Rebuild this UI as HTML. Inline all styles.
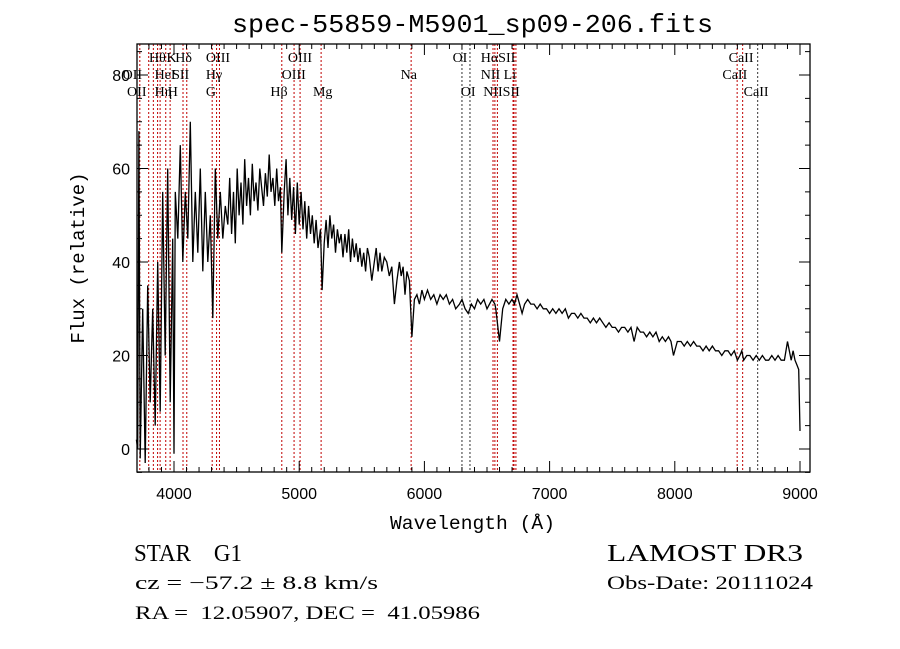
<!DOCTYPE html>
<html><head><meta charset="utf-8"><style>
html,body{margin:0;padding:0;background:#fff;width:900px;height:649px;overflow:hidden}
svg{display:block}
</style></head><body>
<svg id="chart" width="900" height="649" viewBox="0 0 900 649" xmlns="http://www.w3.org/2000/svg">
<text x="232" y="32" textLength="481" lengthAdjust="spacingAndGlyphs" font-family="Liberation Mono, monospace" font-size="26">spec-55859-M5901_sp09-206.fits</text>
<g id="lines"></g>
<g id="labels"></g>
<path id="spec" fill="none" stroke="#000" stroke-width="1.3"/>
<g id="axes"></g>
<text x="390" y="529" textLength="165" lengthAdjust="spacingAndGlyphs" font-family="Liberation Mono, monospace" font-size="19">Wavelength (Å)</text>
<text x="0" y="0" transform="translate(84,258) rotate(-90)" text-anchor="middle" font-family="Liberation Mono, monospace" font-size="19">Flux (relative)</text>
<text x="134" y="561" textLength="108" lengthAdjust="spacingAndGlyphs" font-family="Liberation Serif, serif" font-size="24" xml:space="preserve">STAR    G1</text>
<text x="607" y="561" textLength="196" lengthAdjust="spacingAndGlyphs" font-family="Liberation Serif, serif" font-size="24">LAMOST DR3</text>
<text x="135" y="589" textLength="243" lengthAdjust="spacingAndGlyphs" font-family="Liberation Serif, serif" font-size="19">cz = −57.2 ± 8.8 km/s</text>
<text x="607" y="589" textLength="206" lengthAdjust="spacingAndGlyphs" font-family="Liberation Serif, serif" font-size="19">Obs-Date: 20111024</text>
<text x="135" y="619" textLength="345" lengthAdjust="spacingAndGlyphs" font-family="Liberation Serif, serif" font-size="19" xml:space="preserve">RA =  12.05907, DEC =  41.05986</text>
</svg>
<script>
const wave=[3700,3710,3720,3730,3750,3770,3790,3810,3830,3850,3870,3890,3910,3930,3950,3970,3990,4000,4010,4030,4050,4070,4090,4110,4130,4150,4170,4190,4210,4230,4250,4270,4290,4310,4330,4350,4370,4390,4410,4430,4445,4460,4475,4490,4505,4520,4535,4550,4565,4580,4595,4610,4625,4640,4655,4670,4685,4700,4715,4730,4745,4760,4775,4790,4805,4820,4835,4850,4861,4880,4895,4910,4925,4940,4955,4970,4985,5000,5015,5030,5045,5060,5075,5090,5105,5120,5135,5150,5170,5183,5200,5215,5230,5245,5260,5275,5290,5305,5320,5335,5350,5365,5380,5395,5410,5425,5440,5455,5470,5485,5500,5515,5530,5545,5560,5580,5600,5615,5630,5645,5660,5680,5700,5720,5740,5760,5780,5800,5815,5830,5845,5860,5880,5895,5900,5920,5940,5960,5980,6000,6025,6050,6075,6100,6125,6150,6175,6200,6225,6250,6280,6300,6325,6350,6375,6400,6425,6450,6475,6500,6540,6563,6570,6600,6625,6650,6675,6700,6720,6740,6760,6780,6800,6825,6850,6875,6900,6925,6950,6975,7000,7025,7050,7075,7100,7125,7150,7175,7200,7225,7250,7275,7300,7325,7350,7375,7400,7425,7450,7475,7500,7525,7550,7575,7600,7625,7650,7675,7700,7725,7750,7775,7800,7825,7850,7875,7900,7925,7950,7970,7990,8020,8050,8075,8100,8125,8150,8175,8200,8225,8250,8275,8300,8325,8350,8375,8400,8425,8450,8475,8500,8520,8535,8550,8575,8600,8625,8650,8675,8700,8725,8750,8775,8800,8825,8850,8875,8900,8930,8945,8960,8975,8990,9000,9005];
const flux=[2,0,68,-2,30,-3,35,10,30,5,40,8,55,20,60,10,45,-1,55,45,65,40,55,45,70,40,55,42,60,38,55,40,50,28,60,45,55,45,52,48,58,46,55,44,60,50,57,48,62,52,58,50,61,53,57,51,60,56,52,59,54,63,55,58,52,60,53,56,42,55,62,50,58,49,56,46,57,48,55,47,53,45,52,46,50,44,49,43,47,34,44,49,43,50,45,48,42,47,44,46,41,46,42,47,40,45,41,44,40,43,39,42,38,43,41,36,40,43,38,42,38,41,40,37,39,31,36,40,37,39,33,38,36,27,24,32,33,31,34,32,34,32,33,31,33,32,33,31,32,30,31,32,30,29,31,30,32,31,32,30,32,31,30,23,30,32,31,32,31,33,31,29,31,32,31,31,30,31,30,30,29,30,29,30,29,30,28,29,29,28,29,28,28,27,28,27,28,27,26,27,26,26,25,26,26,25,26,23,26,25,25,24,25,24,25,23,24,23,24,23,20,23,23,22,23,22,23,22,22,21,22,21,22,21,21,20,21,21,20,21,19,20,21,19,20,20,19,20,19,20,19,19,20,19,20,19,19,23,19,21,19,18,17,4,4];
const lineWave=[3727,3798,3835,3869,3889,3934,3969,4072,4102,4305,4340,4363,4861,4959,5007,5175,5894,6300,6364,6548,6563,6583,6708,6716,6731,8498,8542,8662];
const lineBlack=[0,0,0,0,0,0,0,0,0,0,0,0,0,0,0,0,0,1,1,0,0,0,0,0,0,0,0,1];
const labelText=["Hθ","K","Hδ","OIII","OIII","OII","HeI","SII","Hγ","OIII","OII","Hη","H","G","Hβ","Mg","OI","HαSII","CaII","Na","NII Li","CaII","OI","NIISII","CaII"];
const labelWave=[3800,3940,4010,4255,4910,3590,3845,3985,4255,4860,3625,3845,3950,4255,4770,5110,6225,6450,8430,5810,6450,8380,6290,6470,8550];
const labelRow=[0,0,0,0,0,1,1,1,1,1,2,2,2,2,2,2,0,0,0,1,1,1,2,2,2];
const xTicks=[4000,5000,6000,7000,8000,9000];
const yTicks=[0,20,40,60,80];
const L=137,R=810,T=44,B=472;
const X=w=>174+(w-4000)*0.1252;
const Y=f=>449-f*4.675;
const NS="http://www.w3.org/2000/svg";
function mk(t,a,p){const e=document.createElementNS(NS,t);for(const k in a)e.setAttribute(k,a[k]);p.appendChild(e);return e;}
const lg=document.getElementById('lines');
lineWave.forEach((w,i)=>{const l=mk('line',{x1:X(w),x2:X(w),y1:T,y2:B,stroke:lineBlack[i]?'#333':'#c00000','stroke-width':1,'stroke-dasharray':'2,2'},lg);

});
const lb=document.getElementById('labels');
labelText.forEach((s,i)=>{const t=mk('text',{x:X(labelWave[i]),y:62+labelRow[i]*17,'font-family':'Liberation Serif, serif','font-size':14},lb);t.textContent=s;

});
let d='';wave.forEach((w,i)=>{const y=Math.max(T,Math.min(B,Y(flux[i])));d+=(i?'L':'M')+X(w).toFixed(1)+','+y.toFixed(1);});
document.getElementById('spec').setAttribute('d',d);
const ax=document.getElementById('axes');
mk('rect',{x:L,y:T,width:R-L,height:B-T,fill:'none',stroke:'#000','stroke-width':1.3},ax);
for(let w=3800;w<=9000;w+=100){const maj=w%1000===0,len=maj?11:5;
mk('line',{x1:X(w),x2:X(w),y1:B,y2:B-len,stroke:'#000'},ax);
mk('line',{x1:X(w),x2:X(w),y1:T,y2:T+len,stroke:'#000'},ax);}
xTicks.forEach(w=>{const t=mk('text',{x:X(w),y:499,'text-anchor':'middle','font-family':'Liberation Sans, sans-serif','font-size':16},ax);t.textContent=w;

});
for(let f=-5;f<=85;f+=5){const maj=f%20===0,len=maj?11:5;
mk('line',{x1:L,x2:L+len,y1:Y(f),y2:Y(f),stroke:'#000'},ax);
mk('line',{x1:R,x2:R-len,y1:Y(f),y2:Y(f),stroke:'#000'},ax);}
yTicks.forEach(f=>{const t=mk('text',{x:130,y:Y(f)+6,'text-anchor':'end','font-family':'Liberation Sans, sans-serif','font-size':16},ax);t.textContent=f;

});
</script>
</body></html>
